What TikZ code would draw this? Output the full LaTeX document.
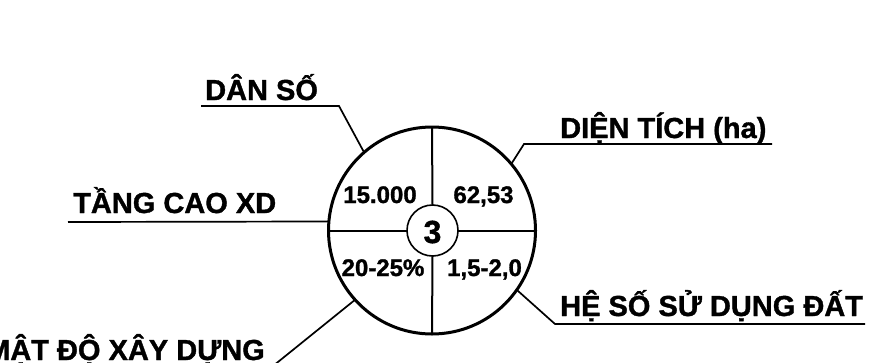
\documentclass[tikz,border=0pt]{standalone}
\usepackage{fontspec}
\setmainfont{Liberation Sans}[BoldFeatures={FakeBold=1.2}]
\begin{document}
\begin{tikzpicture}[x=1pt,y=-1pt,
  lbl/.style={inner sep=0pt,font=\fontsize{29}{32}\selectfont\bfseries},
  num/.style={inner sep=0pt,anchor=base,font=\fontsize{24}{26}\selectfont\bfseries},
  leader/.style={line width=1.7pt},
  divider/.style={line width=2pt}]
\useasboundingbox (0,0) rectangle (891,362);
\clip (0,0) rectangle (891,362);
% circles
\node[circle,draw,line width=3pt,minimum size=207pt,inner sep=0pt,outer sep=0pt] (outer) at (432,230.5) {};
\node[circle,draw,line width=1.6pt,minimum size=51pt,inner sep=0pt,outer sep=0pt] (inner) at (432.5,230.5) {};
\node[inner sep=0pt,anchor=base,font=\fontsize{32}{34}\selectfont\bfseries] (three) at (432.5,243) {3};
\draw[divider] (outer.north) -- (inner.north);
\draw[divider] (inner.south) -- (outer.south);
\draw[divider] (outer.west) -- (inner.west);
\draw[divider] (inner.east) -- (outer.east);
% values
\node[num] (v1) at (380,203) {15.000};
\node[num] (v2) at (483.5,203) {62,53};
\node[num] (v3) at (383,276) {20-25\%};
\node[num] (v4) at (484.5,276) {1,5-2,0};
% labels
\node[lbl,anchor=base west] (dan) at (205,100) {DÂN SỐ};
\coordinate (danA) at (201,106);
\coordinate (danB) at (339,106);
\draw[leader] (danA) -- (danB) -- (outer.131);

\node[lbl,anchor=base west] (tang) at (73,213) {TẦNG CAO XD};
\coordinate (tangA) at (68,222);
\draw[leader] (tangA) -- (outer.175.6);

\node[lbl,anchor=base east] (mat) at (265,360) {MẬT ĐỘ XÂY DỰNG};
\coordinate (matA) at (273,366);
\coordinate (matB) at (0,366);
\draw[leader] (outer.222) -- (matA) -- (matB);

\node[lbl,anchor=base west] (dien) at (560,138) {DIỆN TÍCH (ha)};
\coordinate (dienA) at (524,144);
\coordinate (dienB) at (772,144);
\draw[leader] (outer.40) -- (dienA) -- (dienB);

\node[lbl,anchor=base west] (he) at (560,316) {HỆ SỐ SỬ DỤNG ĐẤT};
\coordinate (heA) at (555,324);
\coordinate (heB) at (865,324);
\draw[leader] (outer.-35) -- (heA) -- (heB);
\end{tikzpicture}
\end{document}
